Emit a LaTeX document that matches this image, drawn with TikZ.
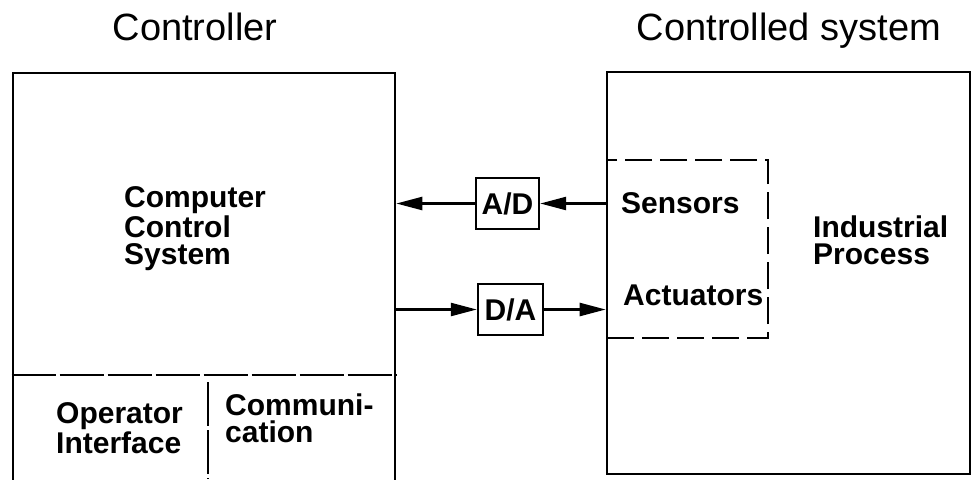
\documentclass[tikz,border=0pt]{standalone}
\usepackage{fontspec}
\setmainfont{Liberation Sans}
\usetikzlibrary{arrows.meta,positioning}

\begin{document}
\begin{tikzpicture}[x=0.5pt,y=-0.5pt,->,>={Triangle[length=13pt,width=6.5pt]},line width=1.2pt]
\tikzstyle{block}=[draw=black,rectangle,inner sep=0pt,line width=1.3pt]
\tikzstyle{conv}=[draw=black,rectangle,inner sep=0pt,line width=1.2pt,font=\bfseries\fontsize{15}{13.5}\selectfont]
\tikzstyle{lbl}=[inner sep=0pt,align=left,font=\bfseries\fontsize{15}{13.5}\selectfont]
\tikzstyle{title}=[inner sep=0pt,anchor=base,font=\fontsize{19}{22}\selectfont]
\tikzstyle{divider}=[-,line width=1.2pt,dash pattern=on 22pt off 2pt]
\useasboundingbox (0,0) rectangle (976,479);
% the two main blocks
\node[block,minimum width=191pt,minimum height=205pt] (ctrl) at (204,278) {};
\node[block,minimum width=181.5pt,minimum height=201pt] (plant) at (788.5,273) {};
\node[draw=black,dash pattern=on 13.5pt off 4pt,line width=1pt,minimum width=80.5pt,minimum height=89pt,inner sep=0pt] (io) at (687.5,249) {};
\node[title] (tctrl) at (195,40) {Controller};
\node[title] (tplant) at (789,40) {Controlled system};
% converters
\node[conv,minimum width=31.5pt,minimum height=25.5pt] (ad) at (507.5,203.5) {A/D};
\node[conv,minimum width=32.5pt,minimum height=25.5pt] (da) at (510.5,309.5) {D/A};
% texts
\node[lbl,anchor=north west] (ccs) at (123,185) {Computer\\Control\\System};
\node[lbl,anchor=north west] (proc) at (812,215) {Industrial\\Process};
\node[lbl,anchor=base west] (sens) at (620,213) {Sensors};
\node[lbl,anchor=base west] (act) at (622,305) {Actuators};
\node[lbl,anchor=north west] (opi) at (55,401) {Operator\\Interface};
\node[lbl,anchor=north west] (comm) at (224,393) {Communi-\\cation};
% dividers of the controller
\draw[divider] (ctrl.west |- 0,375) -- (ctrl.east |- 0,375);
\draw[divider] (208,382) -- (208,479);
% signal paths
\path (ad) edge (ad -| ctrl.east)
      (ad -| plant.west) edge (ad.east)
      (da -| ctrl.east) edge (da.west)
      (da) edge (da -| plant.west);
\end{tikzpicture}
\end{document}
